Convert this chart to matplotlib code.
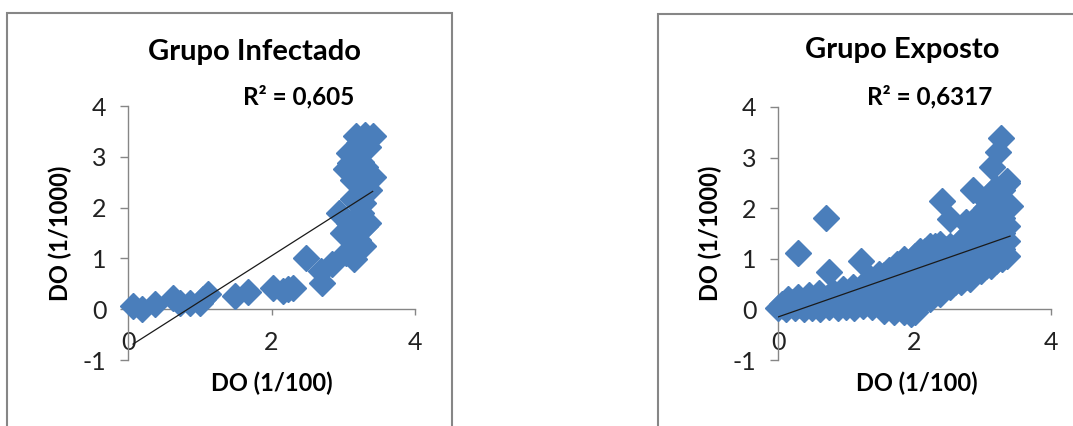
import numpy as np
import matplotlib
matplotlib.use("Agg")
import matplotlib.pyplot as plt
from matplotlib.patches import Rectangle

plt.rcParams['font.family'] = ['Lato', 'DejaVu Sans']
plt.rcParams['axes.unicode_minus'] = False

# ----------------------
# Data
# ----------------------
# Grupo Infectado
inf_x = [0.07, 0.19, 0.38, 0.63, 0.72, 0.86, 1.00, 1.05, 1.12, 1.49, 1.67,
         2.02, 2.16, 2.23, 2.30, 2.48, 2.69, 2.71, 2.85, 2.94, 2.99, 3.04,
         3.04, 3.08, 3.08, 3.08, 3.10, 3.13, 3.13, 3.13, 3.15, 3.18, 3.20,
         3.22, 3.22, 3.27, 3.27, 3.31, 3.31, 3.36, 3.41, 3.41, 3.25, 3.35,
         3.30, 3.25, 3.35]
inf_y = [0.07, 0.00, 0.10, 0.23, 0.13, 0.13, 0.13, 0.20, 0.29, 0.26, 0.33,
         0.42, 0.36, 0.39, 0.42, 1.01, 0.75, 0.52, 0.88, 1.90, 1.50, 1.11,
         2.75, 1.44, 1.70, 3.07, 2.88, 2.16, 2.55, 1.17, 0.98, 3.40, 1.37,
         1.70, 3.27, 1.24, 2.10, 1.63, 3.43, 2.35, 2.61, 3.40, 2.90, 3.20,
         2.80, 1.90, 1.70]
inf_trend = (0.90, -0.75)   # slope, intercept
inf_r2 = "R² = 0,605"

# Grupo Exposto
exp_x = [0.00, 0.12, 0.25, 0.38, 0.50, 0.62, 0.75, 0.88, 1.00, 1.12, 1.25, 1.38, 1.50, 1.62, 1.75, 1.85,
         0.06, 0.22, 0.40, 0.56, 0.72, 0.90, 1.05, 1.20, 1.35, 1.50, 1.65, 1.80,
         0.15, 0.30, 0.45, 0.60, 0.80, 0.95, 1.10, 1.28, 1.42, 1.55, 1.68, 1.80,
         0.08, 0.32, 0.46, 0.68, 0.82, 1.06, 1.18, 1.32, 1.45, 1.58, 1.72,
         1.35, 1.48, 1.62, 1.75, 1.85, 1.45, 1.60, 1.55, 1.70, 1.95,
         1.90, 1.90, 1.90, 1.90,
         1.95, 1.95, 1.95,
         2.00, 2.00, 2.00, 2.00, 2.00,
         2.08, 2.08, 2.08, 2.08, 2.08,
         2.15, 2.15, 2.15, 2.15,
         2.22, 2.22, 2.22, 2.22, 2.22,
         2.30, 2.30, 2.30, 2.30,
         2.38, 2.38, 2.38, 2.38, 2.38,
         2.45, 2.45, 2.45, 2.45,
         2.52, 2.52, 2.52, 2.52,
         2.60, 2.60, 2.60,
         2.68, 2.68, 2.68, 2.68,
         2.75, 2.75, 2.75, 2.75,
         2.82, 2.82, 2.82, 2.82,
         2.90, 2.90, 2.90, 2.90,
         2.98, 2.98, 2.98, 2.98, 2.98,
         3.05, 3.05, 3.05, 3.05, 3.05,
         3.12, 3.12, 3.12, 3.12, 3.12, 3.12,
         3.20, 3.20, 3.20, 3.20, 3.20, 3.20,
         3.28, 3.28, 3.28, 3.28, 3.28, 3.28,
         3.35, 3.35, 3.35, 3.35, 3.35,
         2.40, 2.52, 2.76, 2.86, 3.13, 3.23, 3.27, 3.35, 3.08, 3.40,
         0.30, 0.71, 0.74, 1.22]
exp_y = [0.03, 0.00, 0.02, 0.00, 0.03, 0.01, 0.04, 0.02, 0.05, 0.03, 0.06, 0.05, 0.08, 0.06, 0.02, -0.05,
         0.10, 0.14, 0.16, 0.20, 0.22, 0.25, 0.28, 0.32, 0.36, 0.40, 0.44, 0.50,
         0.20, 0.25, 0.28, 0.33, 0.35, 0.40, 0.45, 0.50, 0.58, 0.68, 0.62, 0.78,
         0.06, 0.08, 0.12, 0.12, 0.16, 0.18, 0.15, 0.20, 0.25, 0.22, 0.30,
         0.62, 0.70, 0.78, 0.90, 1.00, 0.45, 0.55, -0.03, -0.05, -0.10,
         0.00, 0.30, 0.60, 0.90,
         0.15, 0.45, 0.75,
         -0.05, 0.25, 0.55, 0.85, 1.05,
         0.10, 0.40, 0.70, 1.00, 1.15,
         0.30, 0.60, 0.90, 1.15,
         0.20, 0.50, 0.80, 1.10, 1.25,
         0.40, 0.70, 1.00, 1.25,
         0.30, 0.60, 0.90, 1.15, 1.30,
         0.45, 0.75, 1.05, 1.20,
         0.45, 0.65, 0.95, 1.25,
         0.55, 0.85, 1.10,
         0.55, 0.80, 1.10, 1.35,
         0.65, 0.95, 1.25, 1.45,
         0.60, 0.90, 1.20, 1.50,
         0.75, 1.05, 1.35, 1.55,
         0.75, 1.00, 1.30, 1.60, 1.90,
         0.85, 1.15, 1.45, 1.75, 2.00,
         0.85, 1.10, 1.40, 1.70, 2.00, 2.30,
         0.95, 1.25, 1.55, 1.85, 2.20, 2.40,
         1.00, 1.20, 1.50, 1.80, 2.10, 2.35,
         1.05, 1.35, 1.65, 2.00, 2.50,
         2.14, 1.78, 1.72, 2.36, 2.82, 3.12, 3.38, 2.53, 2.13, 2.04,
         1.12, 1.81, 0.74, 0.95]
exp_trend = (0.47, -0.15)
exp_r2 = "R² = 0,6317"

ticks_x = [0, 2, 4]
ticks_y = [-1, 0, 1, 2, 3, 4]

blue = '#4A7EBB'
grey = '#868686'

fig = plt.figure(figsize=(10.73, 4.26), dpi=100)

# chart frames (Excel style borders)
fig.patches.append(Rectangle((7 / 1073, -0.05), 445 / 1073, 1.05 - 13 / 426,
                             transform=fig.transFigure, fill=False,
                             edgecolor=grey, lw=1.5))
fig.patches.append(Rectangle((658 / 1073, -0.05), 0.5, 1.05 - 14 / 426,
                             transform=fig.transFigure, fill=False,
                             edgecolor=grey, lw=1.5))


def draw_panel(rect, xs, ys, trend, title, r2, title_pos, r2_pos, ylab_pos, xlab_pos):
    ax = fig.add_axes(rect)
    ax.plot(xs, ys, linestyle='none', marker='D', ms=13.5,
            color=blue, mec=blue, zorder=3, clip_on=False)
    x0, x1 = min(xs), max(xs)
    tx = np.array([x0, x1])
    ax.plot(tx, trend[0] * tx + trend[1], color='#1a1a1a', lw=0.9, zorder=4)

    ax.set_xlim(0, 4)
    ax.set_ylim(-1, 4)
    ax.set_xticks(ticks_x)
    ax.set_yticks(ticks_y)
    ax.spines['top'].set_visible(False)
    ax.spines['right'].set_visible(False)
    ax.spines['bottom'].set_position(('data', 0))
    for s in ('left', 'bottom'):
        ax.spines[s].set_color(grey)
        ax.spines[s].set_linewidth(1.0)
        ax.spines[s].set_zorder(2)
    ax.tick_params(axis='y', direction='out', length=5.5, width=1.0,
                   color=grey, labelsize=18, pad=10, labelcolor='#222222')
    ax.tick_params(axis='x', direction='out', length=4.5, width=1.0,
                   color=grey, labelsize=18, pad=11, labelcolor='#222222')
    ax.patch.set_alpha(0)

    fig.text(*title_pos, title, ha='center', va='center',
             fontsize=21, fontweight='bold')
    fig.text(*r2_pos, r2, ha='center', va='center',
             fontsize=17.5, fontweight='bold')
    fig.text(*ylab_pos, "DO (1/1000)", ha='center', va='center',
             rotation=90, fontsize=17, fontweight='bold')
    fig.text(*xlab_pos, "DO (1/100)", ha='center', va='center',
             fontsize=17, fontweight='bold')
    return ax


draw_panel([128 / 1073, 66 / 426, 287 / 1073, 254 / 426], inf_x, inf_y, inf_trend,
           "Grupo Infectado", inf_r2,
           (255 / 1073, 1 - 52 / 426), (299 / 1073, 1 - 97 / 426),
           (60 / 1073, 1 - 233 / 426), (272 / 1073, 1 - 383 / 426))

draw_panel([778 / 1073, 66 / 426, 273 / 1073, 253 / 426], exp_x, exp_y, exp_trend,
           "Grupo Exposto", exp_r2,
           (902 / 1073, 1 - 50 / 426), (930 / 1073, 1 - 97 / 426),
           (710 / 1073, 1 - 233 / 426), (917 / 1073, 1 - 383 / 426))

fig.savefig("out.png", dpi=100)
